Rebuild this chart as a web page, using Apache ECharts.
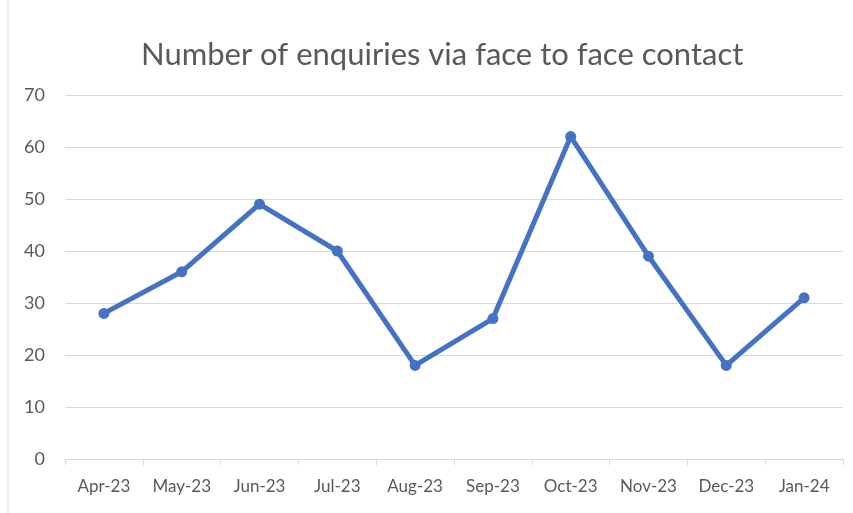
<!DOCTYPE html>
<html>
<head>
<meta charset="utf-8">
<script src="https://cdn.jsdelivr.net/npm/echarts@6/dist/echarts.min.js"></script>
<style>
  html, body { margin: 0; padding: 0; background: #fff; }
  #chart { width: 853px; height: 513px; }
</style>
</head>
<body>
<div id="chart"></div>
<script>
const months = ["Apr-23", "May-23", "Jun-23", "Jul-23", "Aug-23", "Sep-23", "Oct-23", "Nov-23", "Dec-23", "Jan-24"];
const enquiries = [28, 36, 49, 40, 18, 27, 62, 39, 18, 31];

document.addEventListener("DOMContentLoaded", function () {
  const chart = echarts.init(document.getElementById("chart"));
  const textColor = "#595959";
  const option = {
    animation: false,
    title: {
      text: "Number of enquiries via face to face contact",
      left: 136,
      top: 34,
      textStyle: { fontFamily: "Lato", fontSize: 31, fontWeight: "normal", color: textColor }
    },
    grid: { left: 65, right: 10, top: 95, bottom: 54 },
    graphic: [{
      type: "line",
      shape: { x1: 8, y1: 0, x2: 8, y2: 513 },
      style: { stroke: "#d9d9d9", lineWidth: 1 }
    }],
    xAxis: {
      type: "category",
      data: months,
      boundaryGap: true,
      axisLine: { lineStyle: { color: "#d9d9d9", width: 1 } },
      axisTick: { show: true, length: 6, lineStyle: { color: "#d9d9d9" } },
      axisLabel: { color: textColor, fontFamily: "Lato", fontSize: 17, margin: 19, interval: 0 }
    },
    yAxis: {
      type: "value",
      min: 0,
      max: 70,
      interval: 10,
      axisLine: { show: false },
      axisTick: { show: false },
      axisLabel: { color: textColor, fontFamily: "Lato", fontSize: 18, margin: 20 },
      splitLine: { lineStyle: { color: "#d9d9d9", width: 1 } }
    },
    series: [{
      type: "line",
      data: enquiries,
      symbol: "circle",
      symbolSize: 11,
      lineStyle: { color: "#4472C4", width: 5 },
      itemStyle: { color: "#4472C4" }
    }]
  };
  chart.setOption(option);
});
</script>
</body>
</html>
